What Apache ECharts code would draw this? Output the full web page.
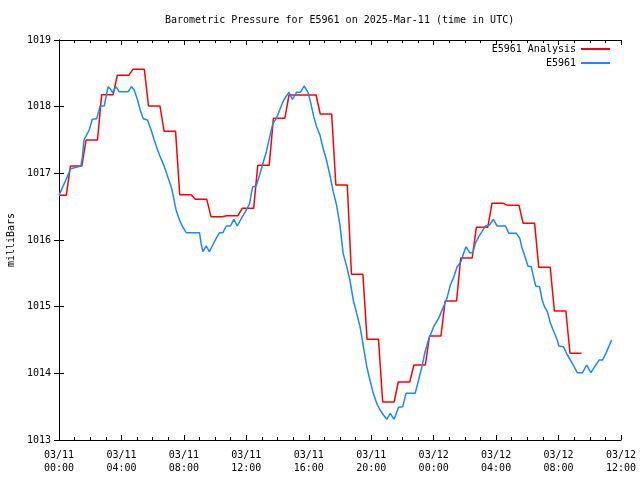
<!DOCTYPE html>
<html>
<head>
<meta charset="utf-8">
<script src="https://cdn.jsdelivr.net/npm/echarts@6/dist/echarts.min.js"></script>
<style>
html,body{margin:0;padding:0;background:#fff;}
#chart{width:640px;height:480px;}
</style>
</head>
<body>
<div id="chart"></div>
<script>
// E5961 Analysis: hourly analysis values (hour 0 .. 33)
const analysisValues = [
  1016.67, 1017.11, 1017.50, 1018.18, 1018.47, 1018.56, 1018.01, 1017.63,
  1016.68, 1016.61, 1016.35, 1016.365, 1016.475, 1017.12, 1017.825, 1018.175,
  1018.175, 1017.89, 1016.825, 1015.485, 1014.51, 1013.57, 1013.87, 1014.125,
  1014.56, 1015.085, 1015.73, 1016.19, 1016.55, 1016.52, 1016.25, 1015.59,
  1014.935, 1014.30
];
// E5961 observations: minutes since 03/11 00:00 UTC and pressure (mb)
const obsMinutes = [
  0, 32, 45, 84, 90, 96, 103, 116, 128, 145, 154, 158, 174, 182, 189, 197, 206, 219, 231, 266,
  279, 289, 302, 312, 324, 340, 354, 366, 379, 392, 405, 418, 431, 437, 450, 463, 475, 489, 540, 546,
  553, 566, 578, 591, 604, 617, 630, 643, 659, 672, 685, 701, 720, 733, 739, 745, 758, 771, 784, 797,
  810, 822, 836, 848, 861, 874, 884, 897, 913, 928, 942, 957, 968, 979, 990, 1003, 1015, 1028, 1041, 1054,
  1067, 1080, 1092, 1106, 1118, 1131, 1144, 1157, 1170, 1183, 1195, 1208, 1221, 1234, 1247, 1260, 1273, 1288, 1305, 1321,
  1334, 1369, 1382, 1395, 1407, 1420, 1440, 1459, 1478, 1491, 1504, 1517, 1530, 1545, 1555, 1564, 1578, 1591, 1600, 1613,
  1626, 1639, 1655, 1669, 1684, 1716, 1729, 1758, 1771, 1780, 1793, 1802, 1815, 1825, 1832, 1847, 1857, 1866, 1877, 1889,
  1902, 1915, 1921, 1938, 1954, 1973, 1992, 2012, 2028, 2044, 2059, 2076, 2089, 2102, 2124
];
const obsValues = [
  1016.67, 1016.95, 1017.07, 1017.11, 1017.25, 1017.50, 1017.55, 1017.65, 1017.81, 1017.82, 1017.95, 1018.01, 1018.01, 1018.175, 1018.30, 1018.27, 1018.21, 1018.30, 1018.225, 1018.225,
  1018.30, 1018.25, 1018.10, 1017.95, 1017.82, 1017.80, 1017.65, 1017.50, 1017.35, 1017.22, 1017.10, 1016.95, 1016.80, 1016.70, 1016.45, 1016.30, 1016.20, 1016.11, 1016.11, 1015.95,
  1015.825, 1015.91, 1015.825, 1015.925, 1016.025, 1016.11, 1016.11, 1016.21, 1016.21, 1016.31, 1016.21, 1016.325, 1016.45, 1016.55, 1016.70, 1016.80, 1016.81, 1016.975, 1017.15, 1017.325,
  1017.55, 1017.75, 1017.825, 1017.95, 1018.075, 1018.16, 1018.215, 1018.11, 1018.215, 1018.215, 1018.31, 1018.215, 1018.05, 1017.85, 1017.70, 1017.575, 1017.375, 1017.20, 1016.975, 1016.725,
  1016.52, 1016.22, 1015.80, 1015.60, 1015.40, 1015.10, 1014.90, 1014.70, 1014.40, 1014.10, 1013.90, 1013.70, 1013.55, 1013.45, 1013.375, 1013.31, 1013.40, 1013.31, 1013.49, 1013.50,
  1013.70, 1013.70, 1013.90, 1014.10, 1014.325, 1014.50, 1014.70, 1014.825, 1015.00, 1015.125, 1015.325, 1015.44, 1015.60, 1015.675, 1015.80, 1015.90, 1015.81, 1015.81, 1015.95, 1016.05,
  1016.125, 1016.21, 1016.225, 1016.31, 1016.21, 1016.21, 1016.10, 1016.10, 1016.025, 1015.875, 1015.725, 1015.61, 1015.60, 1015.425, 1015.31, 1015.30, 1015.10, 1015.00, 1014.925, 1014.75,
  1014.625, 1014.50, 1014.41, 1014.40, 1014.275, 1014.15, 1014.01, 1014.01, 1014.125, 1014.01, 1014.10, 1014.20, 1014.20, 1014.30, 1014.50
];
const xTickDays = ['03/11', '03/12'];
const titleText = 'Barometric Pressure for E5961 on 2025-Mar-11 (time in UTC)';
const seriesNames = ['E5961 Analysis', 'E5961'];

// analysis is held through each hour, switching shortly after the half hour
const analysisData = [];
analysisValues.forEach((v, k) => {
  analysisData.push([k === 0 ? 0 : k * 60 - 16, v]);
  analysisData.push([k * 60 + 28, v]);
});
const obsData = obsMinutes.map((m, i) => [m, obsValues[i]]);

const FONT = 'DejaVu Sans Mono';
function fmtTime(m) {
  const day = Math.floor(m / 1440);
  const hh = Math.floor((m % 1440) / 60);
  return xTickDays[day] + '\n' + String(hh).padStart(2, '0') + ':00';
}
const axisLine = { show: true, lineStyle: { color: '#000', width: 1 } };

const chart = echarts.init(document.getElementById('chart'), null, { renderer: 'canvas' });
chart.setOption({
  animation: false,
  backgroundColor: '#fff',
  title: {
    text: titleText, left: 165, top: 15, padding: 0,
    textStyle: { fontFamily: FONT, fontSize: 10, fontWeight: 'normal', color: '#000' }
  },
  legend: [
    { data: [seriesNames[0]], right: 30, top: 43, padding: 0, align: 'right', icon: 'rect',
      itemWidth: 29, itemHeight: 2, selectedMode: false,
      textStyle: { fontFamily: FONT, fontSize: 10, color: '#000', lineHeight: 12 } },
    { data: [seriesNames[1]], right: 30, top: 57, padding: 0, align: 'right', icon: 'rect',
      itemWidth: 29, itemHeight: 2, selectedMode: false,
      textStyle: { fontFamily: FONT, fontSize: 10, color: '#000', lineHeight: 12 } }
  ],
  grid: { left: 59, right: 19, top: 40, bottom: 40, containLabel: false, outerBoundsMode: 'none' },
  xAxis: [
    { type: 'value', min: 0, max: 2160, interval: 240, position: 'bottom',
      axisLine: axisLine,
      axisTick: { show: true, inside: true, length: 5, lineStyle: { color: '#000' } },
      minorTick: { show: true, splitNumber: 4, length: 3, lineStyle: { color: '#000' } },
      splitLine: { show: false },
      axisLabel: { formatter: fmtTime, fontFamily: FONT, fontSize: 10, color: '#000', margin: 9, lineHeight: 13 } },
    { type: 'value', min: 0, max: 2160, interval: 240, position: 'top',
      axisLine: axisLine,
      axisTick: { show: true, inside: true, length: 5, lineStyle: { color: '#000' } },
      minorTick: { show: true, splitNumber: 4, length: 3, lineStyle: { color: '#000' } },
      splitLine: { show: false }, axisLabel: { show: false } }
  ],
  yAxis: [
    { type: 'value', min: 1013, max: 1019, interval: 1, position: 'left',
      name: 'milliBars', nameLocation: 'middle', nameGap: 40, nameRotate: 90,
      nameTextStyle: { fontFamily: FONT, fontSize: 10, color: '#000' },
      axisLine: axisLine,
      axisTick: { show: true, inside: true, length: 5, lineStyle: { color: '#000' } },
      splitLine: { show: false },
      axisLabel: { formatter: v => String(v), fontFamily: FONT, fontSize: 10, color: '#000', margin: 8 } },
    { type: 'value', min: 1013, max: 1019, interval: 1, position: 'right',
      axisLine: axisLine,
      axisTick: { show: true, inside: true, length: 5, lineStyle: { color: '#000' } },
      splitLine: { show: false }, axisLabel: { show: false } }
  ],
  series: [
    { name: seriesNames[0], type: 'line', data: analysisData, showSymbol: false, symbol: 'none',
      xAxisIndex: 0, yAxisIndex: 0,
      itemStyle: { color: '#ff0000' }, lineStyle: { color: '#ff0000', width: 1.5 } },
    { name: seriesNames[1], type: 'line', data: obsData, showSymbol: false, symbol: 'none',
      xAxisIndex: 0, yAxisIndex: 0,
      itemStyle: { color: '#1a88ff' }, lineStyle: { color: '#1a88ff', width: 1.5 } }
  ]
});
</script>
</body>
</html>
